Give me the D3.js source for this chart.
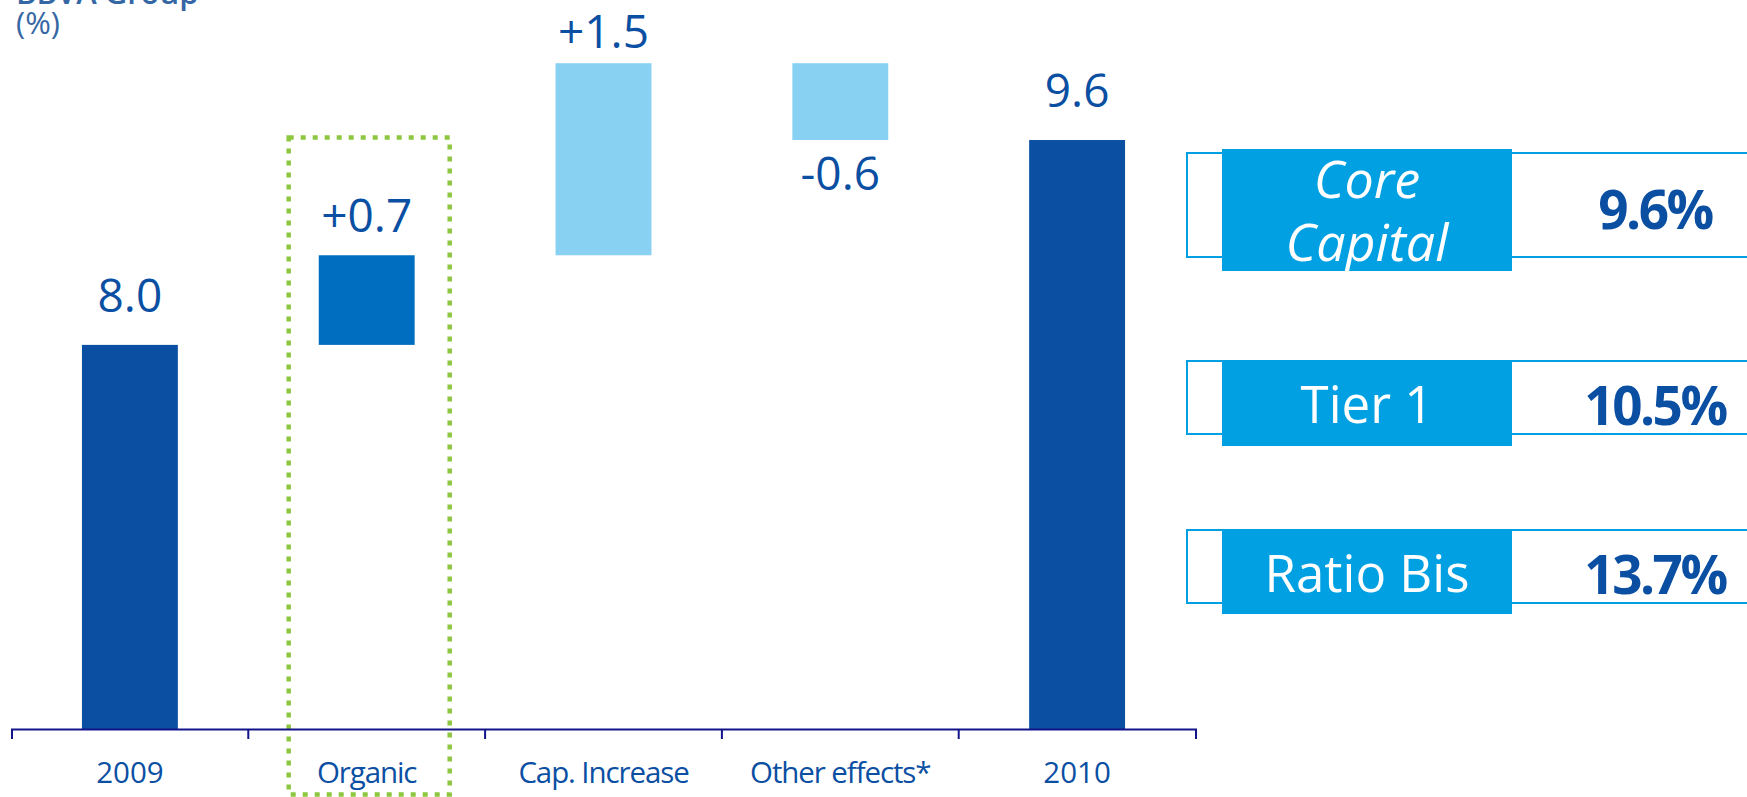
<!DOCTYPE html>
<html>
<head>
<meta charset="utf-8">
<script src="https://cdn.jsdelivr.net/npm/d3@7/dist/d3.min.js"></script>
<style>
  html, body { margin: 0; padding: 0; background: #ffffff; }
  svg { display: block; font-family: "Open Sans", "Noto Sans", sans-serif; }
</style>
</head>
<body>
<svg id="chart" width="1747" height="797"></svg>
<script>
// Core capital bridge 2009 -> 2010 (BBVA Group, %)
const categories = ["2009", "Organic", "Cap. Increase", "Other effects*", "2010"];
const steps      = [8.0, 0.7, 1.5, -0.6, 9.6];
const stepKinds  = ["total", "organic", "delta", "delta", "total"];
const stepLabels = ["8.0", "+0.7", "+1.5", "-0.6", "9.6"];

// Capital ratios at end of 2010
const ratioNames  = [["Core", "Capital"], ["Tier 1"], ["Ratio Bis"]];
const ratioValues = [9.6, 10.5, 13.7];
const ratioItalic = [true, false, false];

const titleLines = ["BBVA Group", "(%)"];

const colors = {
  total: "#0b4fa2",
  organic: "#006ec0",
  delta: "#89d1f2",
  text: "#0b4fa3",
  title: "#3567a4",
  axis: "#14148a",
  highlight: "#8dc63f",
  panel: "#00a0e3"
};

const svg = d3.select("#chart");

// scales
const x = d3.scaleBand().domain(categories).range([11.5, 1195.5]).padding(0);
const y = d3.scaleLinear().domain([5, 10.2]).range([729, 63.2]);
const barW = x.bandwidth() * 0.405;

// waterfall extents
let running = 0;
const bars = categories.map((c, i) => {
  let lo, hi;
  if (stepKinds[i] === "total") {
    lo = y.domain()[0]; hi = steps[i]; running = steps[i];
  } else {
    const start = running;
    running = +(running + steps[i]).toFixed(2);
    lo = Math.min(start, running); hi = Math.max(start, running);
  }
  return { cat: c, kind: stepKinds[i], value: steps[i], label: stepLabels[i], lo, hi };
});

// title
svg.append("g").selectAll("text").data(titleLines).join("text")
  .attr("x", 16).attr("y", (d, i) => 4 + i * 30)
  .attr("fill", colors.title)
  .attr("font-size", 31)
  .attr("font-weight", (d, i) => i === 0 ? 600 : 400)
  .text(d => d);

// highlight frame around the organic step
const org = x("Organic") + x.bandwidth() / 2;
svg.append("rect")
  .attr("x", org - 78).attr("y", 137.5)
  .attr("width", 161).attr("height", 657)
  .attr("fill", "none")
  .attr("stroke", colors.highlight)
  .attr("stroke-width", 4.5)
  .attr("stroke-dasharray", "5 7");

// bars
svg.append("g").selectAll("rect").data(bars).join("rect")
  .attr("x", d => x(d.cat) + (x.bandwidth() - barW) / 2)
  .attr("y", d => y(d.hi))
  .attr("width", barW)
  .attr("height", d => y(d.lo) - y(d.hi))
  .attr("fill", d => colors[d.kind]);

// value labels (kept inside the top margin)
svg.append("g").selectAll("text").data(bars).join("text")
  .attr("x", d => x(d.cat) + x.bandwidth() / 2)
  .attr("y", d => {
    if (d.kind === "total") return y(d.hi) - 33;
    if (d.value < 0) return y(d.lo) + 50;
    return Math.max(y(d.hi) - 23, 48);
  })
  .attr("text-anchor", "middle")
  .attr("fill", colors.text)
  .attr("font-size", 46)
  .text(d => d.label);

// category axis with boundary ticks
const axisG = svg.append("g").attr("transform", `translate(0,${y.range()[0]})`)
  .call(d3.axisBottom(x).tickSizeInner(0).tickSizeOuter(10).tickPadding(0));
axisG.select(".domain").attr("stroke", colors.axis).attr("stroke-width", 2);
axisG.selectAll(".tick line").remove();
axisG.selectAll(".tick text")
  .attr("y", 54).attr("dy", 0)
  .attr("fill", colors.text)
  .attr("font-size", 29.5)
  .attr("letter-spacing", d => /^\d+$/.test(d) ? 0 : -1.1)
  .attr("font-family", "'Open Sans', sans-serif");
axisG.append("g").selectAll("line").data(categories.slice(1)).join("line")
  .attr("x1", d => x(d)).attr("x2", d => x(d))
  .attr("y1", 0).attr("y2", 10)
  .attr("stroke", colors.axis).attr("stroke-width", 2);

// ratio panel
const rowLayout = [
  { outline: [153, 257], fill: [149, 271], names: [198, 261], value: 229 },
  { outline: [361, 434], fill: [361, 446], names: [423], value: 425 },
  { outline: [530, 603], fill: [531, 614], names: [592], value: 594 }
];
const panel = svg.append("g");
ratioValues.forEach((v, i) => {
  const L = rowLayout[i];
  panel.append("rect")
    .attr("x", 1187).attr("y", L.outline[0])
    .attr("width", 600).attr("height", L.outline[1] - L.outline[0])
    .attr("fill", "#ffffff")
    .attr("stroke", colors.panel).attr("stroke-width", 2);
  panel.append("rect")
    .attr("x", 1222).attr("y", L.fill[0])
    .attr("width", 290).attr("height", L.fill[1] - L.fill[0])
    .attr("fill", colors.panel);
  ratioNames[i].forEach((n, j) => {
    panel.append("text")
      .attr("x", 1367).attr("y", L.names[j])
      .attr("text-anchor", "middle")
      .attr("fill", "#ffffff")
      .attr("font-size", ratioItalic[i] ? 52 : 51)
      .attr("font-weight", 500)
      .attr("font-style", ratioItalic[i] ? "italic" : "normal")
      .text(n);
  });
  panel.append("text")
    .attr("x", 1655).attr("y", L.value)
    .attr("text-anchor", "middle")
    .attr("fill", colors.text)
    .attr("font-size", 53)
    .attr("font-weight", 700)
    .attr("letter-spacing", -2.5)
    .text(d3.format(".1f")(v) + "%");
});
</script>
</body>
</html>
